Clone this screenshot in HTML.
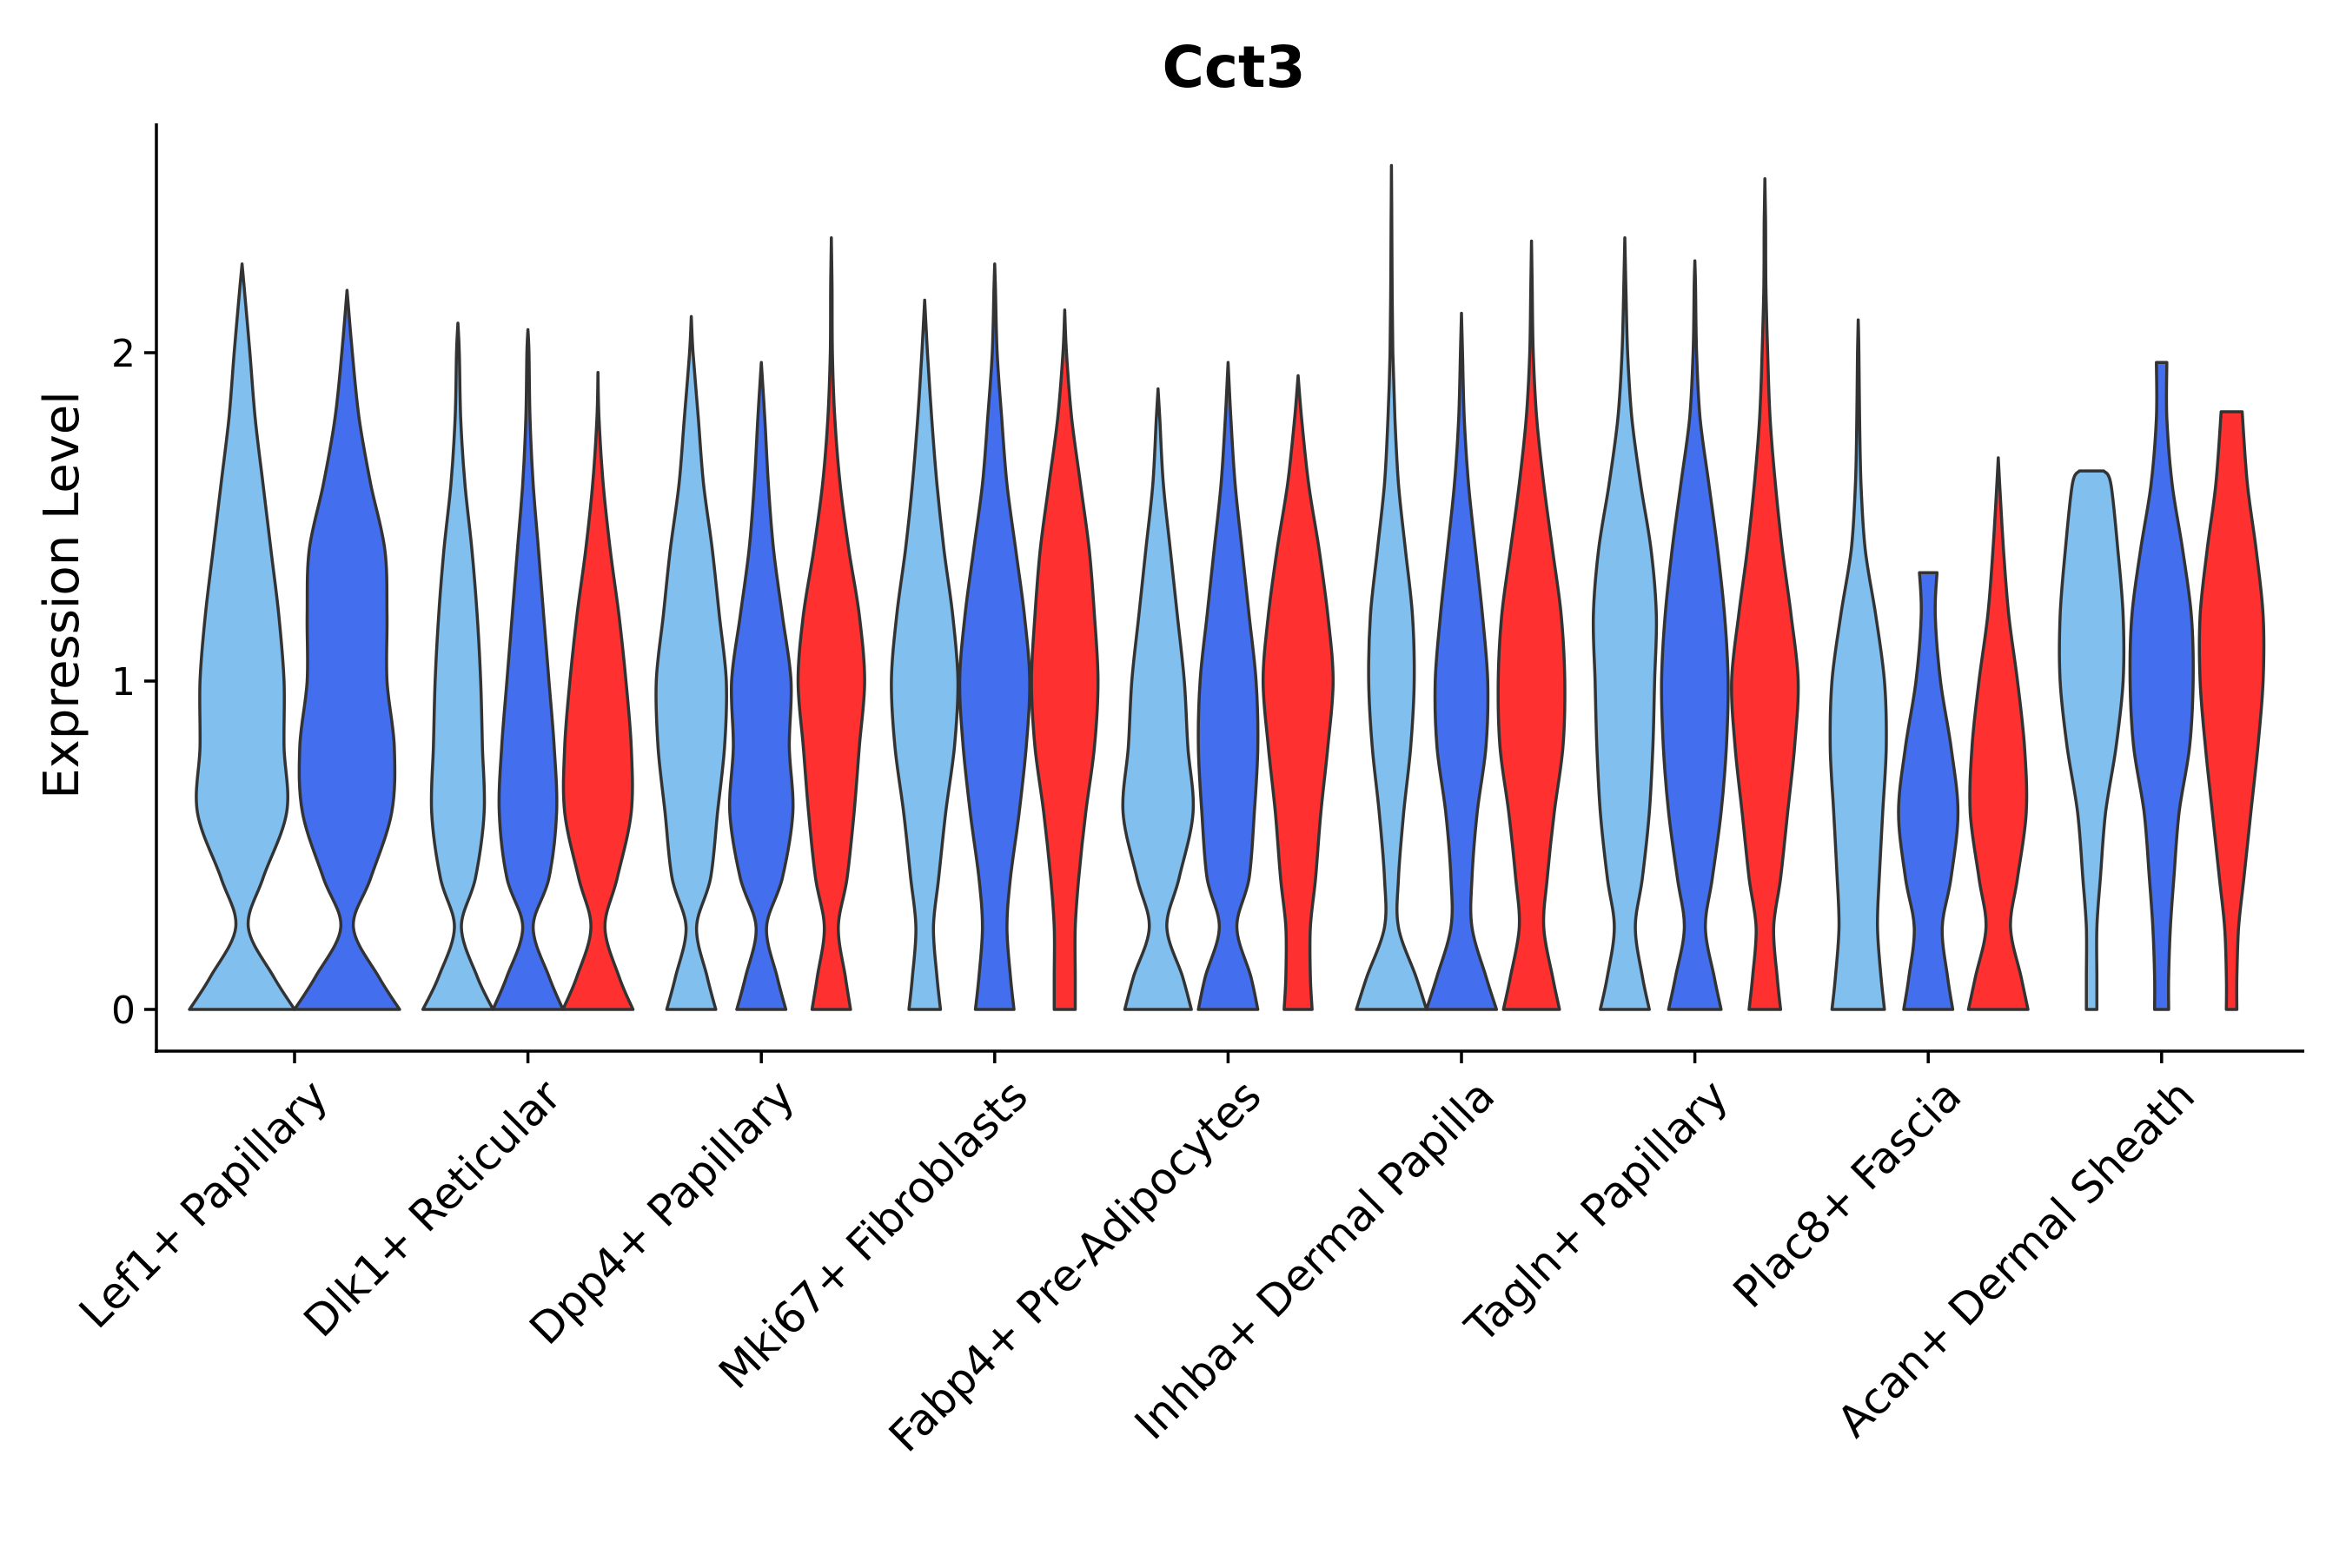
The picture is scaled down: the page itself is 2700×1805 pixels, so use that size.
<!DOCTYPE html>
<html><head><meta charset="utf-8"><style>
body{margin:0;background:#fff}
svg text{font-family:"DejaVu Sans","Liberation Sans",sans-serif}
</style></head><body>
<svg id="chart" width="2700" height="1800" viewBox="0 0 2700 1800" xmlns="http://www.w3.org/2000/svg">
<rect width="2700" height="1800" fill="#fff"/>
<text x="1420" y="100" text-anchor="middle" font-size="66" font-weight="bold">Cct3</text>
<text transform="translate(90,685) rotate(-90)" text-anchor="middle" font-size="56">Expression Level</text>
<g id="plot"></g>
</svg>
<script>
const categories = ["Lef1+ Papillary","Dlk1+ Reticular","Dpp4+ Papillary","Mki67+ Fibroblasts","Fabp4+ Pre-Adipocytes","Inhba+ Dermal Papilla","Tagln+ Papillary","Plac8+ Fascia","Acan+ Dermal Sheath"];
const groupColors = ["#80BFEE","#436EEE","#FF3030"];
const yTicks = [0,1,2];
const levels = [0,0.1,0.25,0.4,0.6,0.8,1.0,1.2,1.4,1.6,1.8,2.0,2.2,2.4];
// per category: list of violins [groupIndex, maxValue, topWidth, relative widths at levels]
const lef1 = [[0,2.27,0,[1,.6,.12,.4,.85,.8,.8,.7,.55,.4,.25,.15,.04]],[1,2.19,0,[1,.6,.12,.45,.85,.9,.76,.76,.72,.45,.23,.1]]];
const dlk1 = [[0,2.09,0,[1,.55,.1,.5,.75,.7,.65,.55,.4,.2,.08,.04]],[1,2.07,0,[1,.6,.15,.6,.82,.75,.6,.45,.3,.15,.06,.03]],[2,1.94,0,[1,.6,.2,.55,.95,.95,.8,.6,.35,.15,.03]]];
const dpp4 = [[0,2.11,0,[.7,.45,.15,.55,.75,.95,1,.8,.6,.35,.2,.05]],[1,1.97,0,[.7,.45,.15,.6,.9,.8,.85,.6,.35,.2,.1]],[2,2.35,0,[.55,.4,.2,.45,.65,.8,.95,.8,.5,.25,.1,.03,.02]]];
const mki67 = [[0,2.16,0,[.45,.35,.25,.4,.6,.85,.95,.8,.55,.35,.2,.08]],[1,2.27,0,[.55,.45,.35,.45,.7,.9,1,.85,.6,.35,.2,.07,.02]],[2,2.13,0,[.3,.3,.3,.4,.6,.85,.95,.85,.7,.45,.2,.05]]];
const fabp4 = [[0,1.89,0,[.95,.7,.25,.6,1,.85,.75,.55,.35,.15,.05]],[1,1.97,0,[.85,.65,.25,.6,.75,.85,.8,.6,.4,.2,.08]],[2,1.93,0,[.4,.35,.35,.5,.65,.85,1,.85,.6,.3,.1]]];
const inhba = [[0,2.57,0,[1,.7,.2,.2,.35,.55,.65,.6,.4,.2,.1,.04,.02,.01]],[1,2.12,0,[1,.7,.3,.3,.45,.7,.75,.6,.4,.2,.08,.03]],[2,2.34,0,[.8,.6,.35,.45,.65,.9,.95,.85,.6,.35,.15,.05,.02]]];
const tagln = [[0,2.35,0,[.7,.5,.3,.5,.7,.8,.85,.9,.75,.45,.2,.08,.03]],[1,2.28,0,[.75,.55,.3,.5,.75,.9,.95,.85,.65,.4,.15,.05,.02]],[2,2.53,0,[.45,.35,.25,.45,.65,.85,.95,.75,.5,.3,.15,.08,.03,.02]]];
const plac8 = [[0,2.1,0,[.75,.65,.55,.6,.7,.8,.75,.5,.2,.08,.04,.02]],[1,1.33,.25,[.7,.55,.4,.65,.85,.65,.35,.2]],[2,1.68,0,[.85,.65,.35,.55,.8,.75,.55,.3,.15,.04]]];
const acan = [[0,1.64,.35,[.15,.15,.15,.25,.4,.7,.9,.9,.75,.55]],[1,1.97,.15,[.2,.2,.25,.35,.5,.8,.9,.85,.6,.3,.15]],[2,1.82,.3,[.15,.15,.2,.35,.55,.75,.9,.9,.7,.45]]];
const violinData = [lef1,dlk1,dpp4,mki67,fabp4,inhba,tagln,plac8,acan];

const NS="http://www.w3.org/2000/svg";
const plot=document.getElementById('plot');
const axL=180, axB=1210, axT=142, axR=2652;
const step=268.6;
function yScale(v){return 1162-378*v;}
function xCat(i){return 339+step*i;}
function mk(tag,attrs){const e=document.createElementNS(NS,tag);for(const k in attrs)e.setAttribute(k,attrs[k]);plot.appendChild(e);return e;}
function smooth(pts){
  let d="M"+pts[0][0].toFixed(1)+","+pts[0][1].toFixed(1);
  for(let i=0;i<pts.length-1;i++){
    const p0=pts[i-1]||pts[i],p1=pts[i],p2=pts[i+1],p3=pts[i+2]||p2;
    const c1=[p1[0]+(p2[0]-p0[0])/6,p1[1]+(p2[1]-p0[1])/6];
    const c2=[p2[0]-(p3[0]-p1[0])/6,p2[1]-(p3[1]-p1[1])/6];
    d+="C"+c1[0].toFixed(1)+","+c1[1].toFixed(1)+" "+c2[0].toFixed(1)+","+c2[1].toFixed(1)+" "+p2[0].toFixed(1)+","+p2[1].toFixed(1);
  }
  return d;
}
violinData.forEach((vs,ci)=>{
  const n=vs.length, slot=0.9*step/n, half=slot/2;
  vs.forEach((v,vi)=>{
    const [g,maxV,topW,ws]=v;
    const cx=xCat(ci)-0.45*step+slot*(vi+0.5);
    const prof=[];
    ws.forEach((w,k)=>{if(levels[k]<maxV)prof.push([levels[k],w]);});
    prof.push([maxV,topW]);
    const right=prof.map(p=>[cx+p[1]*half,yScale(p[0])]);
    const left=prof.map(p=>[cx-p[1]*half,yScale(p[0])]).reverse();
    let d=smooth(right);
    d+="L"+left[0][0].toFixed(1)+","+left[0][1].toFixed(1);
    d+=smooth(left).replace(/^M[^C]*/,"");
    d+="Z";
    const p=mk('path',{d:d,fill:groupColors[g],stroke:'#333',"stroke-width":3.5,"stroke-linejoin":"round"});
    
    
  });
});
const ya=mk('line',{x1:axL,y1:axT,x2:axL,y2:axB+2,stroke:'#000',"stroke-width":3.5});


const xa=mk('line',{x1:axL-2,y1:axB,x2:axR,y2:axB,stroke:'#000',"stroke-width":3.5});


yTicks.forEach(t=>{
  const y=yScale(t);
  const tk=mk('line',{x1:axL-14,y1:y,x2:axL,y2:y,stroke:'#000',"stroke-width":3.5});
  
  
  const tx=mk('text',{x:axL-24,y:y+16,"text-anchor":"end","font-size":44});
  tx.textContent=t;
  
  
});
categories.forEach((c,i)=>{
  const x=xCat(i);
  const tk=mk('line',{x1:x,y1:axB,x2:x,y2:axB+14,stroke:'#000',"stroke-width":3.5});
  
  
  const tx=mk('text',{x:x+16,y:1240,"text-anchor":"end","font-size":50,transform:`rotate(-45 ${x+16} 1240)`,dy:"0.7em"});
  tx.textContent=c;
  
  
});
</script>
</body></html>
